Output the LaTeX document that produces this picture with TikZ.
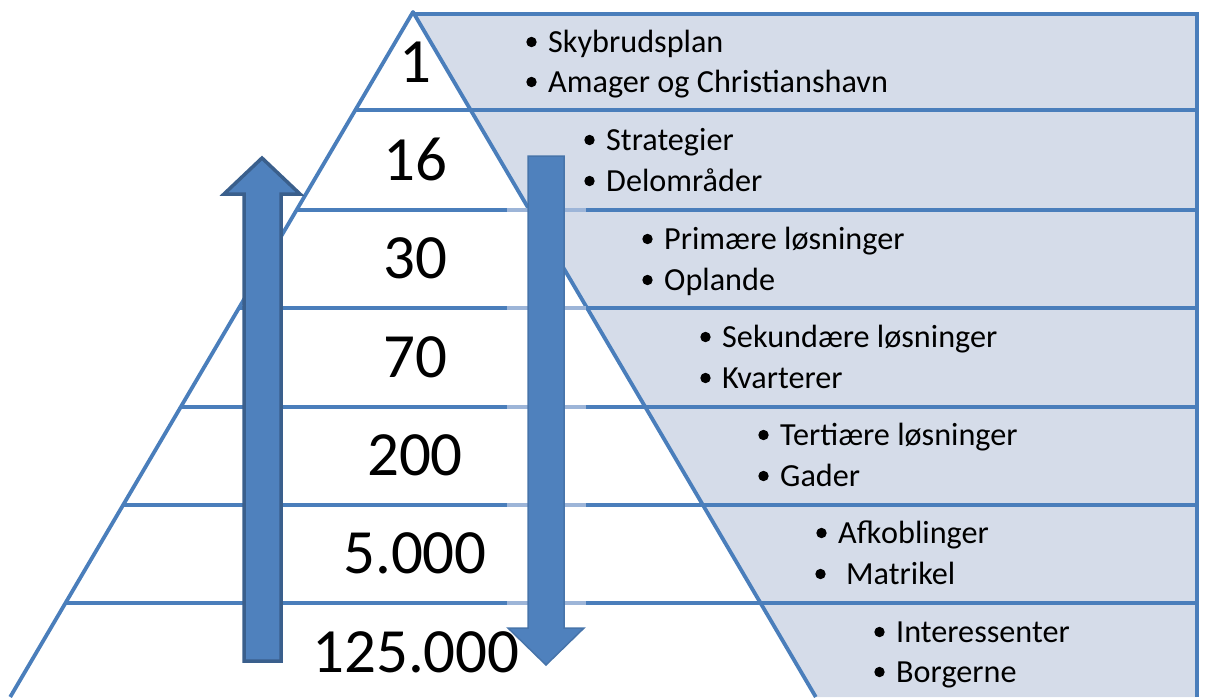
\documentclass[tikz,border=0pt]{standalone}
\usepackage{fontspec}
\setmainfont{Carlito}
\usetikzlibrary{calc}
\definecolor{lineblue}{HTML}{4A7EBB}
\definecolor{lightfill}{HTML}{D5DCE9}
\definecolor{arrowblue}{HTML}{4F81BD}
\definecolor{arrowedge}{HTML}{3A5F8C}
\definecolor{glowblue}{HTML}{9DB5D8}
\begin{document}
\begin{tikzpicture}[x=1pt,y=-1pt,
  pline/.style={draw=lineblue,line width=3.8pt},
  glowline/.style={draw=glowblue,line width=3.8pt},
  num/.style={anchor=base,font=\fontsize{63}{63}\selectfont,inner sep=0pt},
  item/.style={anchor=base west,font=\fontsize{32.2}{32}\selectfont,inner sep=0pt},
  bulletdot/.style={fill=black},
  uparrowshape/.style={fill=arrowblue,draw=arrowedge,line width=3.5pt,line join=miter},
  downarrowshape/.style={fill=arrowblue,draw=arrowblue!90!black,line width=1.5pt,line join=miter}]
\useasboundingbox (0,0) rectangle (1205,697);
% light background region
\fill[lightfill] (413,14) -- (1197,14) -- (1197,697) -- (815.8,697) -- cycle;
% horizontal lines
\foreach \y in {110,210,308,407,505,603}{
  \pgfmathsetmacro{\xl}{413-(\y-12)*0.588}
  \draw[pline] (\xl,\y) -- (1197,\y);
}
% frame top and right
\draw[pline,line join=miter] (413,14) -- (1197,14) -- (1197,697);
% pyramid slants
\draw[pline,line join=round] (10.2,697) -- (413,12) -- (815.8,697);
% numbers
\node[num] (n1) at (415,82) {1};
\node[num] (n2) at (415,180) {16};
\node[num] (n3) at (415,278.5) {30};
\node[num] (n4) at (415,377) {70};
\node[num] (n5) at (415,475) {200};
\node[num] (n6) at (415,573.5) {5.000};
\node[num] (n7) at (416,672) {125.000};
% bullet texts
\node[item] (a1) at (548,52) {Skybrudsplan};
\node[item] (b1) at (548,92) {Amager og Christianshavn};
\node[item] (a2) at (606,150) {Strategier};
\node[item] (b2) at (606,191) {Delområder};
\node[item] (a3) at (664,249) {Primære løsninger};
\node[item] (b3) at (664,290) {Oplande};
\node[item] (a4) at (722,347) {Sekundære løsninger};
\node[item] (b4) at (722,388) {Kvarterer};
\node[item] (a5) at (780,445) {Tertiære løsninger};
\node[item] (b5) at (780,486) {Gader};
\node[item] (a6) at (838,543) {Afkoblinger};
\node[item] (b6) at (846,584) {Matrikel};
\node[item] (a7) at (896,642) {Interessenter};
\node[item] (b7) at (896,682) {Borgerne};
\foreach \n in {a1,b1,a2,b2,a3,b3,a4,b4,a5,b5,a6,a7,b7}{
  \fill[bulletdot] ($(\n.base west)+(-16.5,-10)$) circle (5.2);
}
\fill[bulletdot] ($(b6.base west)+(-25.5,-10)$) circle (5.2);
% up arrow
\draw[uparrowshape] (244,661) -- (244,194) -- (224,194) -- (262,158) -- (300,194) -- (281,194) -- (281,661) -- cycle;
% faded lines round the down arrow
\foreach \y in {210,308,407,505,603}{
  \draw[glowline] (507,\y) -- (586,\y);
}
% down arrow
\draw[downarrowshape] (528,156) -- (564,156) -- (564,628) -- (584,628) -- (546,665) -- (508,628) -- (528,628) -- cycle;
\end{tikzpicture}
\end{document}
